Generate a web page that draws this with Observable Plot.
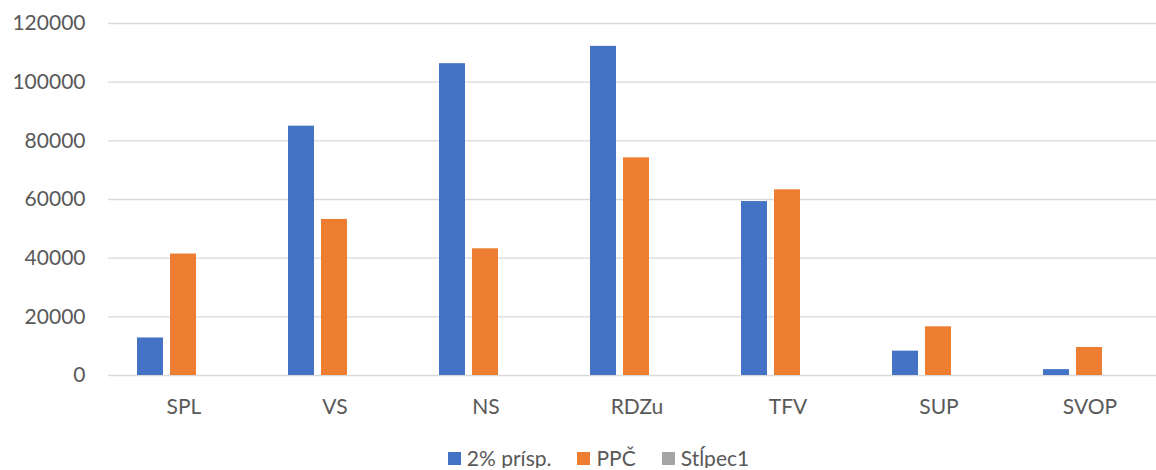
<!DOCTYPE html>
<html>
<head>
<meta charset="utf-8">
<script src="https://cdn.jsdelivr.net/npm/d3@7"></script>
<script src="https://cdn.jsdelivr.net/npm/@observablehq/plot@0.6"></script>
<style>
  html, body { margin: 0; padding: 0; background: #fff; overflow: hidden; }
  #chart { width: 1156px; }
  .legend { display: flex; justify-content: center; gap: 26px; padding-left: 41px; margin-top: 18px;
            font-family: Lato, "Liberation Sans", sans-serif; font-size: 21px; line-height: 20px; color: #595959; }
  .legend .item { display: flex; align-items: center; gap: 6px; }
  .legend .sw { width: 13px; height: 13px; display: inline-block; }
</style>
</head>
<body>
<div id="chart"></div>
<script>
const categories = ["SPL", "VS", "NS", "RDZu", "TFV", "SUP", "SVOP"];
const seriesNames = ["2% prísp.", "PPČ", "Stĺpec1"];
const seriesColors = ["#4472C4", "#ED7D31", "#A5A5A5"];
const prispevok2 = [12800, 85000, 106300, 112200, 59300, 8300, 2000];
const ppc = [41400, 53200, 43200, 74200, 63300, 16600, 9550];
const stlpec1 = [null, null, null, null, null, null, null];
const yTicks = [0, 20000, 40000, 60000, 80000, 100000, 120000];

const valuesBySeries = [prispevok2, ppc, stlpec1];
const data = [];
seriesNames.forEach((s, si) => {
  categories.forEach((c, ci) => {
    const v = valuesBySeries[si][ci];
    if (v != null) data.push({category: c, series: s, value: v});
  });
});

const plot = Plot.plot({
  width: 1156,
  height: 430,
  marginTop: 23,
  marginBottom: 55,
  marginLeft: 106,
  marginRight: -10,
  style: {fontFamily: "Lato, 'Liberation Sans', sans-serif", fontSize: "21px", color: "#595959", background: "#fff"},
  fx: {domain: categories, padding: 0, label: null, tickSize: 0, tickPadding: 24, axis: "bottom"},
  x: {domain: seriesNames, paddingInner: 0.21, paddingOuter: 0.86, axis: null},
  y: {domain: [0, 120000], ticks: yTicks, tickFormat: d3.format("d"), tickSize: 0, tickPadding: 23, label: null},
  color: {domain: seriesNames, range: seriesColors},
  marks: [
    Plot.gridY(yTicks, {stroke: "#D9D9D9", strokeOpacity: 1, strokeWidth: 1.3}),
    Plot.barY(data, {fx: "category", x: "series", y: "value", fill: "series"})
  ]
});
document.getElementById("chart").appendChild(plot);

const legend = document.createElement("div");
legend.className = "legend";
seriesNames.forEach((s, i) => {
  const item = document.createElement("span");
  item.className = "item";
  const sw = document.createElement("span");
  sw.className = "sw";
  sw.style.background = seriesColors[i];
  const t = document.createElement("span");
  t.textContent = s;
  item.appendChild(sw);
  item.appendChild(t);
  legend.appendChild(item);
});
document.body.appendChild(legend);
</script>
</body>
</html>
